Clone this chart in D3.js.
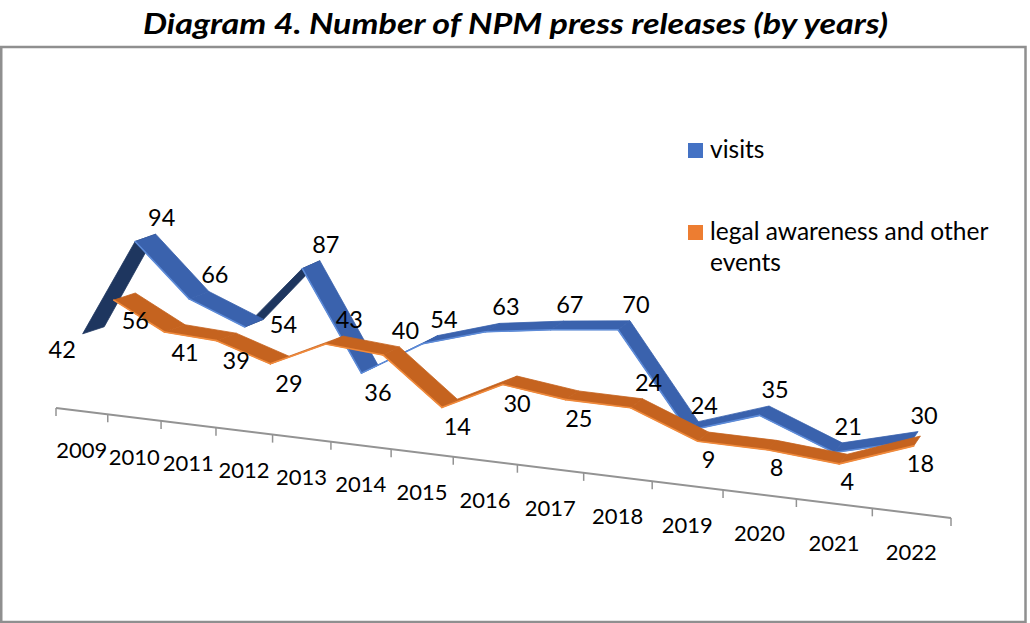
<!DOCTYPE html>
<html>
<head>
<meta charset="utf-8">
<script src="https://cdn.jsdelivr.net/npm/d3@7"></script>
<style>
  body { margin: 0; background: #fff; }
</style>
</head>
<body>
<div id="chart"></div>
<script>
// data
const years = ["2009", "2010", "2011", "2012", "2013", "2014", "2015",
  "2016", "2017", "2018", "2019", "2020", "2021", "2022"];
const visits = [42, 94, 66, 54, 87, 36, 54, 63, 67, 70, 24, 35, 21, 30];
const legal = [56, 41, 39, 29, 43, 40, 14, 30, 25, 24, 9, 8, 4, 18];
const seriesNames = ["visits", "legal awareness and other events"];

// where excel put each data label (a = above, b = below, r = right, l = left)
const visitsLabelSide = ["l", "a", "a", "r", "a", "b", "a", "a", "a", "a", "a", "a", "a", "a"];
const legalLabelSide = ["b", "b", "b", "b", "a", "a", "b", "b", "b", "a", "b", "b", "b", "b"];

const width = 1030, height = 623;

const svg = d3
  .select("#chart")
  .append("svg")
  .attr("width", width)
  .attr("height", height)
  .style("font-family", "Lato, 'Open Sans', sans-serif");

// chart area frame
svg.append("rect")
  .attr("x", 1.25).attr("y", 47)
  .attr("width", 1024.25).attr("height", 575)
  .attr("fill", "#fff")
  .attr("stroke", "#8f8f8f")
  .attr("stroke-width", 2.5);

// title
svg.append("text")
  .attr("x", 143).attr("y", 34)
  .attr("textLength", 745)
  .attr("lengthAdjust", "spacingAndGlyphs")
  .style("font-size", "28px")
  .style("font-weight", "bold")
  .style("font-style", "italic")
  .text("Diagram 4. Number of NPM press releases (by years)");

// categories on [0,1], then a perspective squeeze (far end on the left)
const band = d3.scaleBand().domain(years).range([0, 1]);
const S = 1.253;
const persp = (u) => u / (S + (1 - S) * u);

// front edge of the floor
const axisX = d3.scaleLinear().domain([0, 1]).range([56, 951]);
const axisY = d3.scaleLinear().domain([0, 1]).range([408, 518]);

// depth of a ribbon (back edge -> front edge), changes along the axis
const depthX = d3.scaleLinear().domain([0, 1]).range([-22, -6]);
const depthY = d3.scaleLinear().domain([0, 1]).range([7, 10]);

const axisG = svg.append("g");
const bounds = years.map((y) => band(y)).concat([1]);
axisG.append("line")
  .attr("x1", axisX(persp(0))).attr("y1", axisY(persp(0)))
  .attr("x2", axisX(persp(1))).attr("y2", axisY(persp(1)))
  .attr("stroke", "#939393")
  .attr("stroke-width", 2);
axisG.selectAll(".tick")
  .data(bounds)
  .join("line")
  .attr("class", "tick")
  .attr("x1", (u) => axisX(persp(u))).attr("x2", (u) => axisX(persp(u)))
  .attr("y1", (u) => axisY(persp(u))).attr("y2", (u) => axisY(persp(u)) + 8)
  .attr("stroke", "#939393")
  .attr("stroke-width", 1.5);
axisG.selectAll(".year")
  .data(years)
  .join("text")
  .attr("class", "year")
  .attr("x", (y) => axisX(persp(band(y) + band.bandwidth() / 2)))
  .attr("y", (y) => axisY(persp(band(y) + band.bandwidth() / 2)) + 47)
  .attr("text-anchor", "middle")
  .style("font-size", "22px")
  .text((y) => y);

const series = [
  {
    name: seriesNames[0], values: visits, sides: visitsLabelSide,
    x: [79, 957], base: [402, 500], k: [1.85, 2.15],
    face: "#3a62ad", dark: "#1e365f", edge: "#5d8bd8", legend: "#4472c4",
  },
  {
    name: seriesNames[1], values: legal, sides: legalLabelSide,
    x: [111, 958], base: [391.5, 472], k: [1.8, 1.8],
    face: "#c5631f", dark: "#8a4310", edge: "#f08a3c", legend: "#ed7d31",
  },
];

const labelOffset = {
  a: [6, -16], b: [0, 28], r: [20, 6], l: [-42, 23],
};

const ribbons = svg.append("g");
const labels = svg.append("g").style("font-size", "23.5px");

series.forEach((s) => {
  const xs = d3.scaleLinear().domain([0, 1]).range(s.x);
  const base = d3.scaleLinear().domain([0, 1]).range(s.base);
  const kk = d3.scaleLinear().domain([0, 1]).range(s.k);

  const pts = s.values.map((v, i) => {
    const t = persp(band(years[i]) + band.bandwidth() / 2);
    const bx = xs(t), by = base(t) - v * kk(t);
    return { v, t, side: s.sides[i], back: [bx, by], front: [bx + depthX(t), by + depthY(t)] };
  });

  const segs = d3.pairs(pts).map(([p, q]) => {
    const sx = q.back[0] - p.back[0], sy = q.back[1] - p.back[1];
    const dx = (depthX(p.t) + depthX(q.t)) / 2, dy = (depthY(p.t) + depthY(q.t)) / 2;
    return { p, q, under: sx * dy - sy * dx < 0 };
  });

  const g = ribbons.append("g");
  // undersides first, upper faces on top of them
  const ordered = segs.filter((d) => d.under).concat(segs.filter((d) => !d.under));
  g.selectAll("path.face")
    .data(ordered)
    .join("path")
    .attr("class", "face")
    .attr("d", (d) => "M" + [d.p.back, d.q.back, d.q.front, d.p.front].join("L") + "Z")
    .attr("fill", (d) => (d.under ? s.dark : s.face))
    .attr("stroke", (d) => (d.under ? s.dark : s.face))
    .attr("stroke-width", 0.8)
    .attr("stroke-linejoin", "round");
  g.selectAll("line.edge")
    .data(segs.filter((d) => !d.under))
    .join("line")
    .attr("class", "edge")
    .attr("x1", (d) => d.p.front[0]).attr("y1", (d) => d.p.front[1])
    .attr("x2", (d) => d.q.front[0]).attr("y2", (d) => d.q.front[1])
    .attr("stroke", s.edge)
    .attr("stroke-width", 1.6)
    .attr("stroke-linecap", "round");

  labels.selectAll(null)
    .data(pts)
    .join("text")
    .attr("x", (d) => d.back[0] + labelOffset[d.side][0])
    .attr("y", (d) => d.back[1] + labelOffset[d.side][1] + 8)
    .attr("text-anchor", "middle")
    .attr("fill", "#000")
    .text((d) => d.v);
});

// legend
const legend = svg.append("g").style("font-size", "24.5px");
const legendRows = [
  { s: series[0], y: 150, lines: ["visits"] },
  { s: series[1], y: 232, lines: ["legal awareness and other", "events"] },
];
legendRows.forEach((r) => {
  legend.append("rect")
    .attr("x", 688).attr("y", r.y - 7)
    .attr("width", 15).attr("height", 15)
    .attr("fill", r.s.legend);
  const txt = legend.append("text").attr("x", 710).attr("y", r.y + 8);
  r.lines.forEach((l, i) => {
    txt.append("tspan").attr("x", 710).attr("dy", i ? 31 : 0).text(l);
  });
});
</script>
</body>
</html>
